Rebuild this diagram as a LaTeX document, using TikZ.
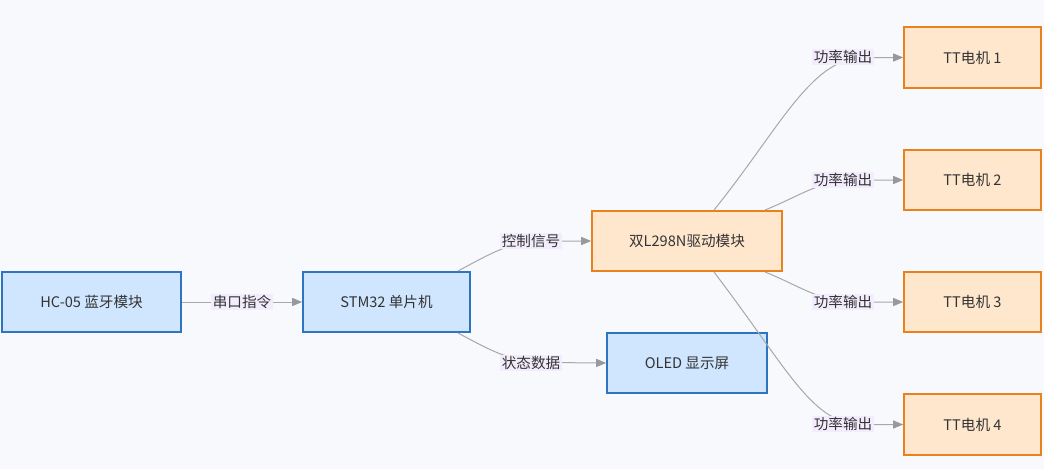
\documentclass[tikz,border=0pt]{standalone}
\usepackage{fontspec}
\setmainfont{Noto Sans CJK SC}
\usetikzlibrary{arrows.meta}
\definecolor{bgc}{HTML}{F8F9FC}
\definecolor{bluefill}{HTML}{D0E6FF}
\definecolor{blueline}{HTML}{2F74C0}
\definecolor{orfill}{HTML}{FFE7CE}
\definecolor{orline}{HTML}{E8821E}
\definecolor{edgec}{HTML}{A8A8A8}
\definecolor{tipc}{HTML}{999999}
\definecolor{lblbg}{HTML}{F3ECFD}
\definecolor{txt}{HTML}{333333}
\tikzset{
  box/.style={draw, line width=1.6pt, minimum height=60pt, inner sep=0pt, font=\fontsize{14.6}{17}\selectfont, text=txt},
  bluebox/.style={box, fill=bluefill, draw=blueline},
  orbox/.style={box, fill=orfill, draw=orline},
  conn/.style={draw=edgec, line width=1pt, -{Triangle[length=10pt,width=8pt,fill=tipc,color=tipc]}},
  lbl/.style={fill=lblbg, inner sep=1.5pt, font=\fontsize{14.6}{17}\selectfont, text=txt}
}
\begin{document}
\begin{tikzpicture}[x=1pt,y=-1pt]
\fill[bgc] (0,0) rectangle (1044,469);
\useasboundingbox (0,0) rectangle (1044,469);
\node[bluebox, minimum width=179pt] (hc) at (91.5,302) {HC-05 蓝牙模块};
\node[bluebox, minimum width=167pt] (stm) at (386.5,302) {STM32 单片机};
\node[orbox, minimum width=190pt] (drv) at (687,241) {双L298N驱动模块};
\node[bluebox, minimum width=160pt] (oled) at (687,363) {OLED 显示屏};
\node[orbox, minimum width=137pt, minimum height=61pt] (t1) at (972.5,57.5) {TT电机 1};
\node[orbox, minimum width=137pt] (t2) at (972.5,180) {TT电机 2};
\node[orbox, minimum width=137pt] (t3) at (972.5,302) {TT电机 3};
\node[orbox, minimum width=137pt, minimum height=61pt] (t4) at (972.5,424.5) {TT电机 4};
% connectors
\coordinate (s1) at (458,271);
\coordinate (s2) at (458,333);
\coordinate (d1) at (714,210);
\coordinate (d2) at (765,210);
\coordinate (d3) at (765,272);
\coordinate (d4) at (714,272);
\draw[conn] (hc.east) -- (stm.west);
\draw[conn] (s1) .. controls (490,254) and (510,241) .. (545,241) -- (drv.west);
\draw[conn] (s2) .. controls (490,350) and (510,362) .. (545,362.5) -- (oled.west);
\draw[conn] (d1) .. controls (780,128) and (810,60) .. (862,57.5) -- (t1.west);
\draw[conn] (d2) .. controls (800,196) and (820,180) .. (855,180) -- (t2.west);
\draw[conn] (d3) .. controls (800,286) and (820,302) .. (855,302) -- (t3.west);
\draw[conn] (d4) .. controls (790,372) and (812,424) .. (862,424.5) -- (t4.west);
% labels
\node[lbl] (l0) at (242,302) {串口指令};
\node[lbl] (l1) at (531,241) {控制信号};
\node[lbl] (l2) at (531,363) {状态数据};
\node[lbl] (l3) at (843,57) {功率输出};
\node[lbl] (l4) at (843,180) {功率输出};
\node[lbl] (l5) at (843,302) {功率输出};
\node[lbl] (l6) at (843,424) {功率输出};
\end{tikzpicture}
\end{document}
